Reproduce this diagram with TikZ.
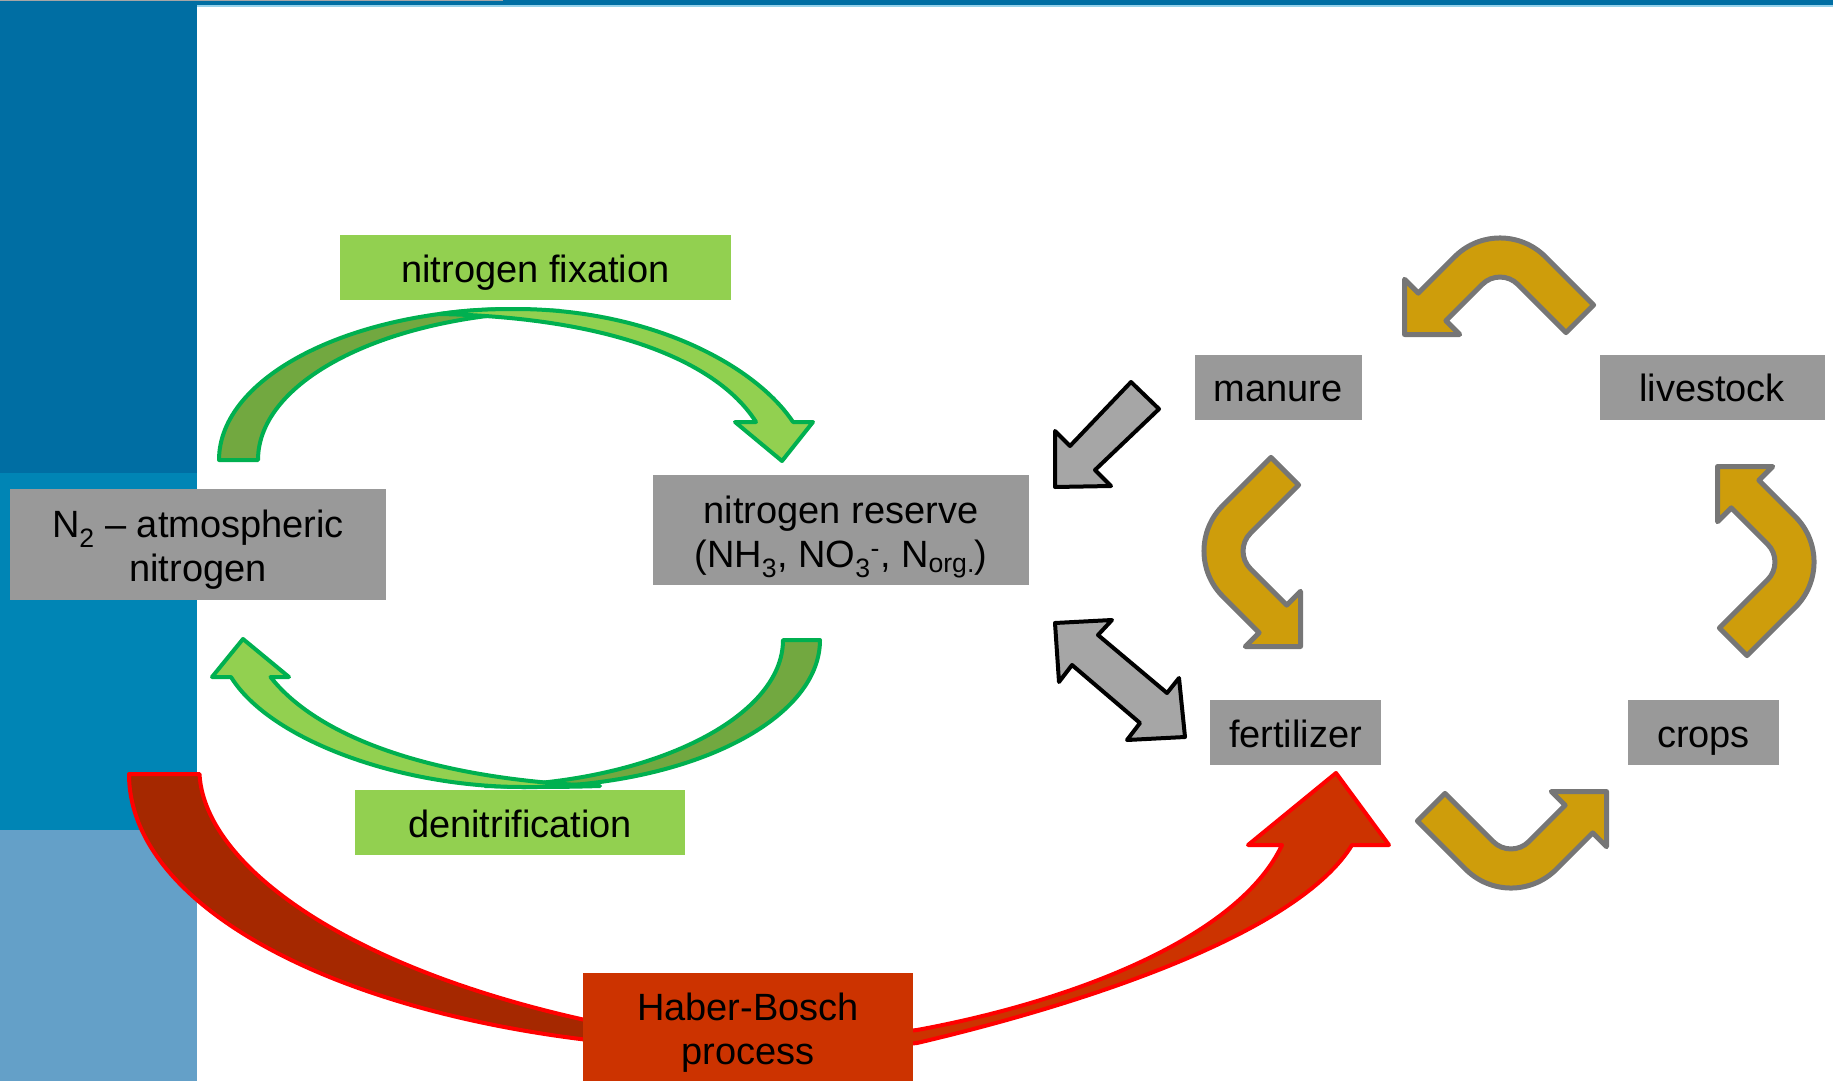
\documentclass[tikz,border=0pt]{standalone}
\usepackage{fontspec}
\setmainfont{Liberation Sans}

\definecolor{bgdark}{RGB}{0,110,163}
\definecolor{bgmid}{RGB}{0,133,181}
\definecolor{bglight}{RGB}{100,160,200}
\definecolor{bgline}{RGB}{150,210,235}
\definecolor{boxgray}{RGB}{153,153,153}
\definecolor{leafgreen}{RGB}{146,208,80}
\definecolor{leafdark}{RGB}{114,168,64}
\definecolor{leafedge}{RGB}{0,176,80}
\definecolor{haberred}{RGB}{204,51,0}
\definecolor{haberdark}{RGB}{165,40,0}
\definecolor{haberedge}{RGB}{255,0,0}
\definecolor{flowgray}{RGB}{166,166,166}
\definecolor{gold}{RGB}{206,157,11}
\definecolor{goldedge}{RGB}{118,118,118}

\newcommand{\boxfont}{\fontsize{38}{44}\selectfont}

\tikzset{
  graybox/.style={fill=boxgray, inner sep=0pt, align=center, font=\boxfont, text height=37pt, text depth=8pt},
  greenbox/.style={fill=leafgreen, inner sep=0pt, align=center, font=\boxfont, text height=37pt, text depth=8pt},
  redbox/.style={fill=haberred, inner sep=0pt, align=center, font=\boxfont},
  twolines/.style={text height=82pt, text depth=8pt},
  greenflow/.style={draw=leafedge, line width=4pt, line join=round},
  redflow/.style={draw=haberedge, line width=4pt, line join=round},
  grayflow/.style={fill=flowgray, draw=black, line width=4pt, line join=round},
  goldflow/.style={fill=gold, draw=goldedge, line width=5pt, line join=round},
  % gebogener Pfeil (Kreislauf rechts)
  bentarrow/.pic={
    \draw[goldflow] (93.6,66.0) -- (45.4,17.8)
      .. controls (20.3,-7.3) and (-20.3,-7.3) .. (-45.4,17.8)
      -- (-81.7,54.1) -- (-95.5,40.3) -- (-95.5,95.5) -- (-40.3,95.5) -- (-54.1,81.7)
      -- (-17.8,45.4) .. controls (-8.0,35.6) and (8.0,35.6) .. (17.8,45.4)
      -- (66.0,93.6) -- cycle;
  }
}

\begin{document}
\begin{tikzpicture}[x=1pt, y=-1pt]
  \useasboundingbox (0,0) rectangle (1833,1081);

  % Hintergrund
  \fill[bgdark] (0,0) rectangle (197,473);
  \fill[bgmid] (0,473) rectangle (197,830);
  \fill[bglight] (0,830) rectangle (197,1081);
  \fill[bgdark] (197,0) rectangle (1833,5);
  \fill[bgline] (197,5) rectangle (1833,7);
  \fill[gray!70] (0,0) rectangle (503,1.5);

  % Fixierung (oben)
  \filldraw[greenflow, fill=leafdark] (219,460) .. controls (219,376.6) and (351.6,309) .. (515,309)
    -- (560,311) .. controls (390,313) and (258,379) .. (258,460) -- cycle;
  \filldraw[greenflow, fill=leafgreen] (440,314) .. controls (465,310) and (490,309) .. (515,309)
    .. controls (650,309) and (755,365) .. (793,422) -- (813,422) -- (782,461) -- (735,422) -- (756,422)
    .. controls (720,365) and (620,318) .. (440,314) -- cycle;

  % Denitrifikation (unten)
  \filldraw[greenflow, fill=leafdark] (783,640) -- (820,640) .. controls (820,721) and (687,787) .. (523,787)
    -- (485,786) .. controls (650,784) and (783,718) .. (783,640) -- cycle;
  \filldraw[greenflow, fill=leafgreen] (600,786) .. controls (570,787) and (545,787) .. (523,787)
    .. controls (400,787) and (270,740) .. (231,677) -- (212,677) -- (243,639) -- (289,677) -- (270.5,677)
    .. controls (320,740) and (440,780) .. (600,786) -- cycle;

  % Haber-Bosch
  \filldraw[redflow, fill=haberdark] (129,774) -- (199.5,774) .. controls (205,880) and (400,1010) .. (760,1048)
    -- (760,1050) .. controls (403,1050) and (129,926) .. (129,774) -- cycle;
  \filldraw[redflow, fill=haberred] (760,1050) .. controls (840,1049) and (880,1047) .. (917,1043)
    .. controls (1100,1000) and (1300,930) .. (1352,845) -- (1389,845) -- (1336,773) -- (1248,845) -- (1282,845)
    .. controls (1240,935) and (1080,1000) .. (917,1030) -- (760,1046) -- cycle;

  % graue Pfeile
  \filldraw[grayflow] (1131,382) -- (1159,409) -- (1095,470) -- (1111,486) -- (1055,487)
    -- (1055,431) -- (1070,446) -- cycle;
  \filldraw[grayflow] (1055,623) -- (1112,620) -- (1098,635) -- (1167,693) -- (1179,678)
    -- (1185,737) -- (1127,740) -- (1140,723) -- (1072,665) -- (1059,682) -- cycle;

  % Kreislauf
  \pic at (1500,239) {bentarrow};
  \pic[rotate=90] at (1205,551) {bentarrow};
  \pic[rotate=180] at (1511,887) {bentarrow};
  \pic[rotate=270] at (1813,562) {bentarrow};

  % Kaesten
  \node[graybox, twolines, minimum width=376, minimum height=111] (n2) at (198,544.5)
    {N\textsubscript{2} – atmospheric\\nitrogen};
  \node[graybox, twolines, minimum width=376, minimum height=110] (reserve) at (841,530)
    {nitrogen reserve\\(NH\textsubscript{3}, NO\textsubscript{3}\textsuperscript{-}, N\textsubscript{org.})};
  \node[greenbox, minimum width=391, minimum height=65] (fixation) at (535.5,267.5) {nitrogen fixation};
  \node[greenbox, minimum width=330, minimum height=65] (denitr) at (520,822.5) {denitrification};
  \node[redbox, twolines, minimum width=330, minimum height=109] (haber) at (748,1027) {Haber-Bosch\\process};
  \node[graybox, minimum width=167, minimum height=65] (manure) at (1278,387) {manure};
  \node[graybox, minimum width=225, minimum height=65] (livestock) at (1712,387) {livestock};
  \node[graybox, minimum width=171, minimum height=65] (fertilizer) at (1295.5,732.5) {fertilizer};
  \node[graybox, minimum width=151, minimum height=65] (crops) at (1703.5,732.5) {crops};
\end{tikzpicture}
\end{document}
